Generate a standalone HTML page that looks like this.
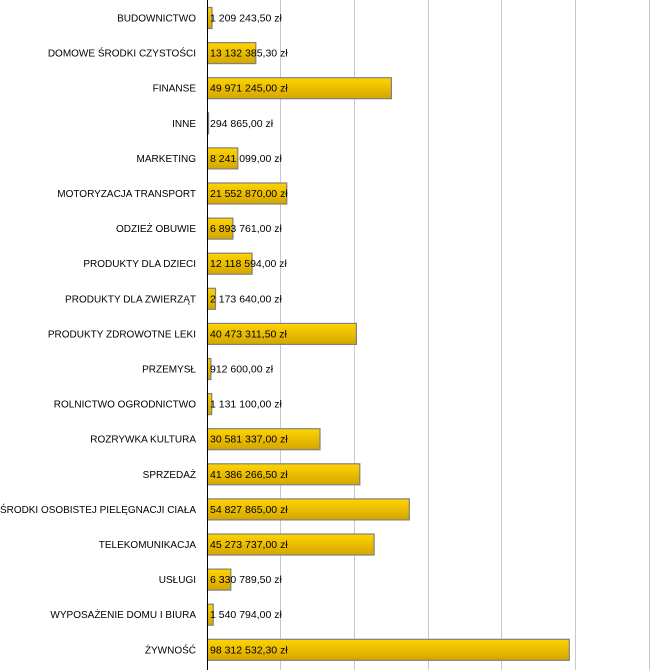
<!DOCTYPE html>
<html><head><meta charset="utf-8"><style>
html,body{margin:0;padding:0;background:#fff;}
svg{display:block;font-family:"Liberation Sans",sans-serif;font-size:10px;}
</style></head><body>
<svg width="650" height="670" xmlns="http://www.w3.org/2000/svg">
<defs><linearGradient id="g" x1="0" y1="0" x2="0" y2="1"><stop offset="0" stop-color="#ffd400"/><stop offset="1" stop-color="#d4a600"/></linearGradient></defs>
<g stroke="#c8c8c8" stroke-width="1">
<line x1="280.5" y1="0" x2="280.5" y2="670"/><line x1="354.5" y1="0" x2="354.5" y2="670"/><line x1="428.5" y1="0" x2="428.5" y2="670"/><line x1="501.5" y1="0" x2="501.5" y2="670"/><line x1="575.5" y1="0" x2="575.5" y2="670"/><line x1="649.5" y1="0" x2="649.5" y2="670"/>
</g>
<g id="rows"></g>
<line x1="207.5" y1="0" x2="207.5" y2="670" stroke="#000" stroke-width="1"/>
<g id="txt"></g>
</svg>
<script>
var d=[["BUDOWNICTWO",1209243.5,"1 209 243,50 zł"],["DOMOWE ŚRODKI CZYSTOŚCI",13132385.3,"13 132 385,30 zł"],["FINANSE",49971245,"49 971 245,00 zł"],["INNE",294865,"294 865,00 zł"],["MARKETING",8241099,"8 241 099,00 zł"],["MOTORYZACJA TRANSPORT",21552870,"21 552 870,00 zł"],["ODZIEŻ OBUWIE",6893761,"6 893 761,00 zł"],["PRODUKTY DLA DZIECI",12118594,"12 118 594,00 zł"],["PRODUKTY DLA ZWIERZĄT",2173640,"2 173 640,00 zł"],["PRODUKTY ZDROWOTNE LEKI",40473311.5,"40 473 311,50 zł"],["PRZEMYSŁ",912600,"912 600,00 zł"],["ROLNICTWO OGRODNICTWO",1131100,"1 131 100,00 zł"],["ROZRYWKA KULTURA",30581337,"30 581 337,00 zł"],["SPRZEDAŻ",41386266.5,"41 386 266,50 zł"],["ŚRODKI OSOBISTEJ PIELĘGNACJI CIAŁA",54827865,"54 827 865,00 zł"],["TELEKOMUNIKACJA",45273737,"45 273 737,00 zł"],["USŁUGI",6330789.5,"6 330 789,50 zł"],["WYPOSAŻENIE DOMU I BIURA",1540794,"1 540 794,00 zł"],["ŻYWNOŚĆ",98312532.3,"98 312 532,30 zł"]];
var ns="http://www.w3.org/2000/svg",R=document.getElementById("rows"),T=document.getElementById("txt");
function el(t,a,p){var e=document.createElementNS(ns,t);for(var k in a)e.setAttribute(k,a[k]);p.appendChild(e);return e;}
d.forEach(function(r,i){var c=17.5+35.1*i;var w=Math.max(1,r[1]/20e6*73.6);
el("rect",{x:207.5,y:(c-10).toFixed(1),width:w.toFixed(1),height:21,fill:"url(#g)",stroke:"#808080","stroke-width":1.2},R);
var l=el("text",{x:196,y:(c+4).toFixed(1),"text-anchor":"end",fill:"#000"},T);l.textContent=r[0];
if(i==14){l.setAttribute("textLength","196");l.setAttribute("lengthAdjust","spacingAndGlyphs");}
var v=el("text",{x:210,y:(c+4).toFixed(1),fill:"#000","font-size":"10.5"},T);v.textContent=r[2];});
</script>
</body></html>
